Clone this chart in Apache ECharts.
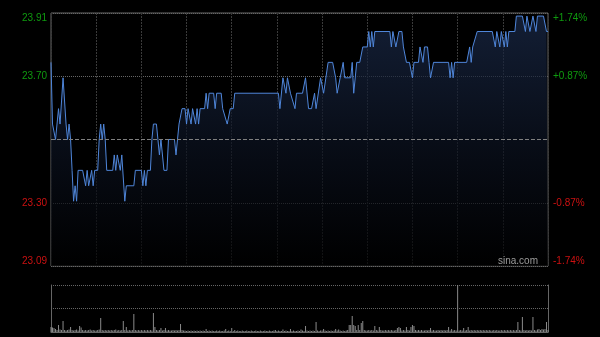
<!DOCTYPE html>
<html><head><meta charset="utf-8">
<script src="https://cdn.jsdelivr.net/npm/echarts@6/dist/echarts.min.js"></script>
<style>html,body{margin:0;padding:0;background:#000;}#c{width:600px;height:337px;}</style>
</head><body><div id="c"></div>
<script>
// ---- data ----
const prevClose = 23.50;
const priceMin = 23.09, priceMax = 23.91;
const pctMin = -1.74, pctMax = 1.74, pctStep = 0.87;
const priceTickLabels = ['23.09', '23.30', '', '23.70', '23.91'];
const pctTickLabels = ['-1.74%', '-0.87%', '', '+0.87%', '+1.74%'];
const sessionMinutes = 330;   // 09:30-12:00, 13:00-16:00
const gridStepMinutes = 30;
// [minute index, price]
const pricePoints = [[0,23.75],[1,23.55],[3,23.50],[5,23.60],[6,23.55],[8,23.70],[10,23.55],[11,23.50],[12,23.55],[13,23.50],[14,23.40],[15,23.30],[16,23.35],[17,23.30],[18,23.40],[21,23.40],[23,23.35],[24,23.40],[25,23.35],[27,23.40],[28,23.35],[29,23.40],[31,23.40],[32,23.50],[33,23.55],[34,23.50],[35,23.55],[36,23.50],[37,23.40],[41,23.40],[42,23.45],[43,23.40],[44,23.45],[46,23.40],[47,23.45],[48,23.45],[49,23.30],[50,23.35],[55,23.35],[56,23.40],[60,23.40],[61,23.35],[62,23.40],[63,23.35],[64,23.40],[66,23.40],[67,23.50],[68,23.55],[70,23.55],[71,23.50],[72,23.45],[73,23.50],[75,23.40],[77,23.40],[78,23.50],[82,23.50],[83,23.45],[84,23.50],[85,23.55],[87,23.60],[89,23.60],[90,23.55],[91,23.60],[93,23.55],[94,23.60],[95,23.60],[96,23.55],[97,23.60],[98,23.55],[99,23.60],[102,23.60],[103,23.65],[104,23.60],[105,23.65],[108,23.65],[109,23.60],[110,23.65],[113,23.65],[114,23.60],[115,23.60],[117,23.55],[119,23.60],[121,23.60],[122,23.65],[151,23.65],[152,23.60],[154,23.70],[155,23.70],[156,23.65],[157,23.70],[159,23.65],[160,23.65],[162,23.60],[163,23.65],[167,23.65],[169,23.70],[171,23.60],[173,23.60],[175,23.65],[176,23.60],[179,23.70],[180,23.70],[181,23.65],[184,23.75],[187,23.75],[189,23.70],[190,23.65],[191,23.65],[194,23.75],[195,23.70],[199,23.70],[200,23.75],[201,23.65],[203,23.75],[205,23.75],[207,23.80],[210,23.80],[211,23.85],[212,23.80],[213,23.85],[214,23.80],[215,23.85],[225,23.85],[226,23.80],[227,23.85],[229,23.80],[231,23.85],[233,23.85],[234,23.80],[236,23.75],[238,23.75],[240,23.70],[241,23.75],[244,23.75],[245,23.80],[246,23.80],[247,23.75],[248,23.80],[250,23.80],[251,23.75],[252,23.70],[254,23.75],[264,23.75],[265,23.70],[266,23.75],[267,23.70],[268,23.75],[276,23.75],[278,23.80],[279,23.75],[280,23.80],[281,23.80],[283,23.85],[293,23.85],[295,23.80],[296,23.85],[298,23.80],[299,23.85],[301,23.80],[302,23.85],[303,23.80],[304,23.85],[308,23.85],[309,23.90],[313,23.90],[315,23.85],[316,23.90],[318,23.85],[320,23.90],[322,23.85],[323,23.90],[327,23.90],[329,23.85],[330,23.85]];
// per-minute volume (index = minute)
const volumes = [
 50,45,40,30,20,70,25,20,110,20,15,20,25,50,20,15,20,25,15,60,45,20,15,20,15,20,25,15,20,15,
 15,20,25,140,20,15,20,15,20,15,20,15,20,25,15,20,15,20,110,20,50,15,20,15,20,180,20,15,20,15,
 20,15,20,15,20,15,20,15,190,50,20,15,20,40,15,20,40,15,20,15,15,20,15,20,15,20,80,20,15,15,
 10,15,10,15,10,15,10,15,10,15,10,15,10,30,10,15,10,15,10,10,15,10,15,10,10,15,30,10,15,10,
 40,10,20,10,15,10,10,15,10,10,15,10,10,15,10,10,15,10,10,15,10,10,15,10,10,15,10,10,15,20,
 10,15,10,10,25,10,15,10,10,30,10,15,10,10,15,10,25,15,10,60,15,10,15,10,15,10,100,15,10,15,
 15,30,15,10,15,10,15,10,15,30,15,25,15,10,15,10,15,20,70,70,160,70,60,20,70,20,90,110,20,15,
 15,20,15,20,15,60,20,15,50,20,15,15,20,15,20,15,20,15,15,20,40,50,40,15,20,15,50,20,15,50,
 70,60,20,15,20,15,20,15,15,20,15,20,40,15,20,15,15,20,15,20,15,20,15,20,50,15,30,15,20,15,
 470,15,20,15,40,15,20,50,15,20,15,20,15,20,15,20,15,20,15,20,15,20,15,15,20,15,20,15,15,20,
 15,20,15,20,15,20,15,20,15,20,100,20,15,150,20,15,20,15,20,15,150,20,15,25,30,20,30,25,30,100,
 20
];

// ---- chart ----
const FONT = 'Liberation Sans, Arial, sans-serif';
const UP = '#0f9a0f', DOWN = '#cc1111';
const volMax = Math.max(...volumes);
const chart = echarts.init(document.getElementById('c'), null, {renderer: 'canvas'});

const labelColor = (v) => (v > 0 ? UP : DOWN);

chart.setOption({
  backgroundColor: '#000',
  animation: false,
  title: {
    text: 'sina.com', right: 62, top: 256, padding: 0,
    textStyle: {color: '#9c9c9c', fontSize: 10, fontWeight: 'normal', fontFamily: FONT}
  },
  grid: [
    {left: 51, right: 52, top: 13, height: 253, show: true, borderColor: '#666', borderWidth: 1, backgroundColor: 'transparent'},
    {left: 51, right: 52, top: 285, height: 47}
  ],
  xAxis: [
    {type: 'value', gridIndex: 0, min: 0, max: sessionMinutes, interval: gridStepMinutes,
     axisLabel: {show: false}, axisTick: {show: false}, axisLine: {show: false},
     splitLine: {show: true, lineStyle: {color: '#3a3a3a', type: [2, 1], width: 1}}},
    {type: 'value', gridIndex: 1, min: 0, max: sessionMinutes, interval: gridStepMinutes,
     axisLabel: {show: false}, axisTick: {show: false},
     axisLine: {show: true, onZero: false, lineStyle: {color: '#666', width: 1}},
     splitLine: {show: false}}
  ],
  yAxis: [
    {type: 'value', gridIndex: 0, min: priceMin, max: priceMax, show: false, scale: true},
    {type: 'value', gridIndex: 0, position: 'left', min: pctMin, max: pctMax, interval: pctStep,
     axisLine: {show: false}, axisTick: {show: false},
     axisLabel: {show: true, margin: 4, fontSize: 10, fontFamily: FONT,
       formatter: (v, i) => priceTickLabels[i], color: labelColor,
       verticalAlignMaxLabel: 'top', verticalAlignMinLabel: 'bottom'},
     splitLine: {show: true, lineStyle: {color: ['#666', '#666', 'rgba(0,0,0,0)', '#666', '#666'], type: [1, 1], width: 1}}},
    {type: 'value', gridIndex: 0, position: 'right', min: pctMin, max: pctMax, interval: pctStep,
     axisLine: {show: false}, axisTick: {show: false},
     axisLabel: {show: true, margin: 5, fontSize: 10, fontFamily: FONT,
       formatter: (v, i) => pctTickLabels[i], color: labelColor,
       verticalAlignMaxLabel: 'top', verticalAlignMinLabel: 'bottom'},
     splitLine: {show: false}},
    {type: 'value', gridIndex: 1, min: 0, max: volMax, interval: volMax / 2,
     axisLabel: {show: false}, axisTick: {show: false},
     axisLine: {show: true, lineStyle: {color: '#666', width: 1}},
     splitLine: {show: true, lineStyle: {color: '#666', type: [1, 1], width: 1}}},
    {type: 'value', gridIndex: 1, position: 'right', min: 0, max: volMax,
     axisLabel: {show: false}, axisTick: {show: false},
     axisLine: {show: true, lineStyle: {color: '#666', width: 1}},
     splitLine: {show: false}}
  ],
  series: [
    {
      type: 'line', xAxisIndex: 0, yAxisIndex: 0,
      data: pricePoints,
      symbol: 'none', smooth: false,
      lineStyle: {color: '#4f86da', width: 1},
      areaStyle: {
        origin: 'start',
        color: new echarts.graphic.LinearGradient(0, 0, 0, 1, [
          {offset: 0, color: '#1b2b4b'},
          {offset: 0.5, color: '#0c1322'},
          {offset: 1, color: '#000000'}
        ])
      },
      markLine: {
        silent: true, symbol: ['none', 'none'], label: {show: false},
        lineStyle: {color: '#808080', type: [4, 2], width: 1},
        data: [{yAxis: prevClose}]
      }
    },
    {
      type: 'bar', xAxisIndex: 1, yAxisIndex: 3,
      data: volumes.map((v, i) => [i, v]),
      barWidth: 1,
      itemStyle: {color: '#8a8a8a'}
    }
  ]
});
</script>
</body></html>
